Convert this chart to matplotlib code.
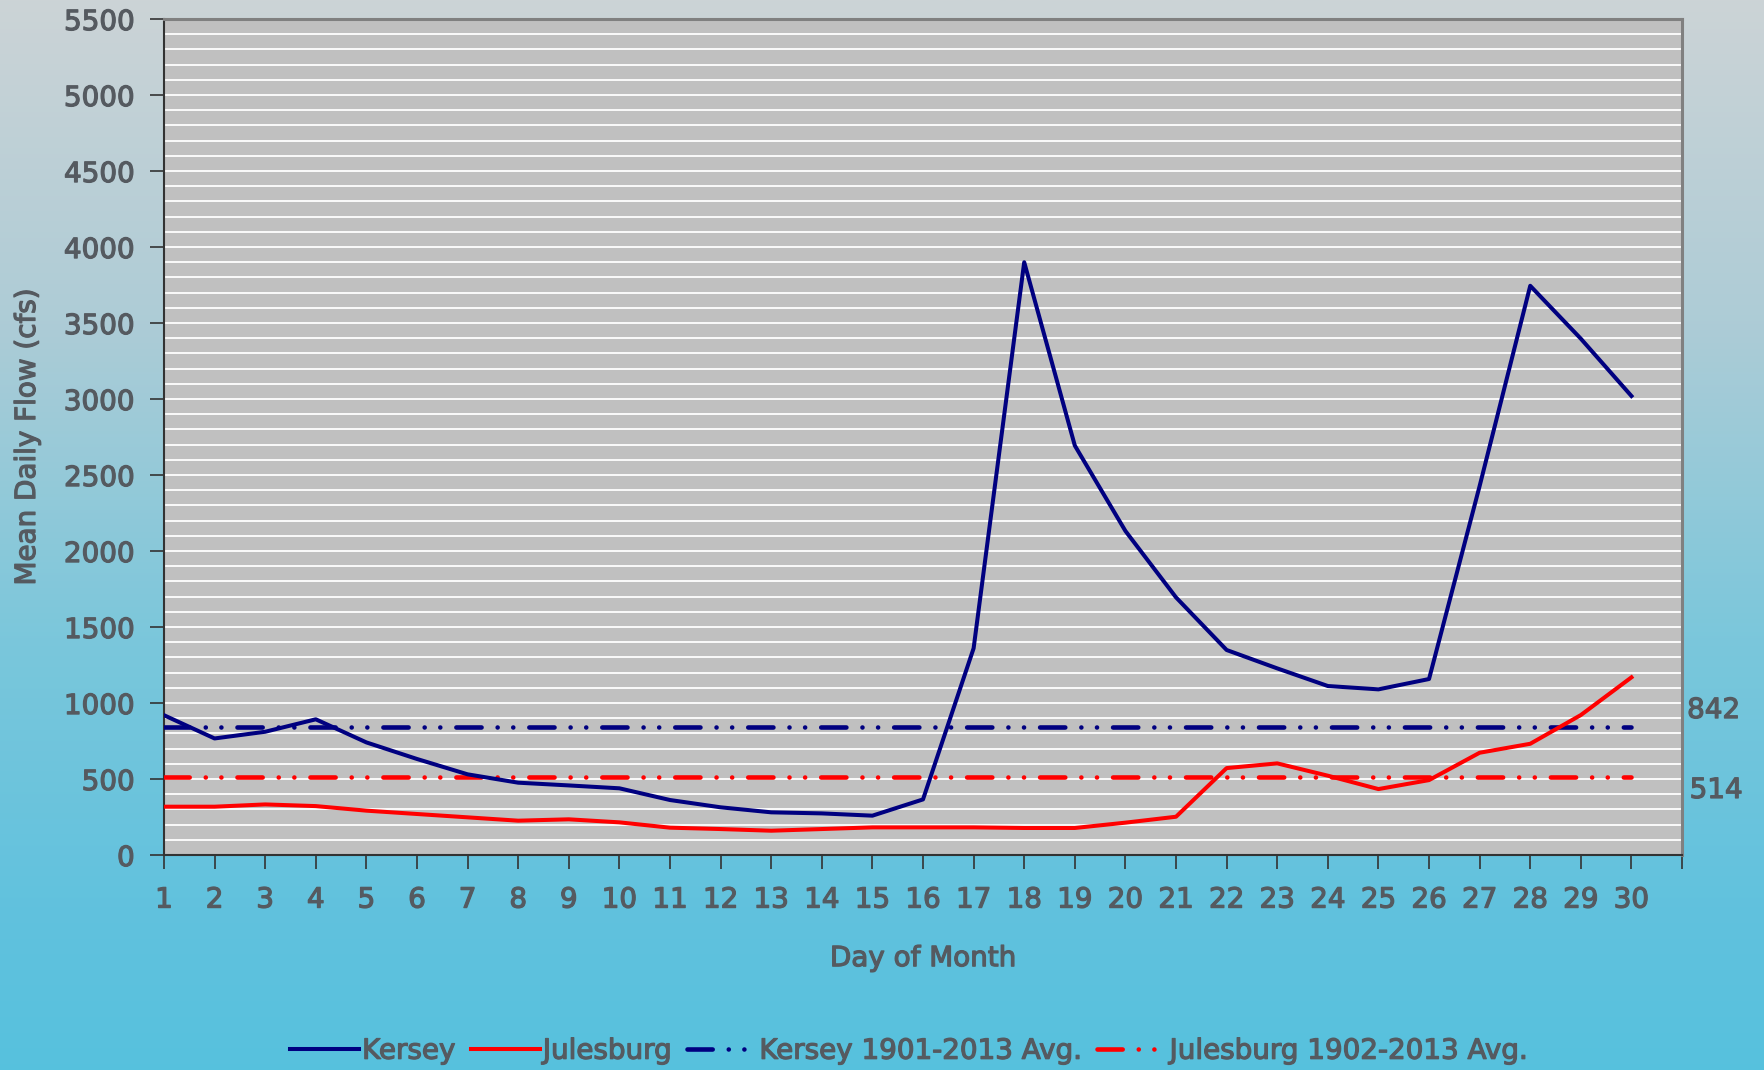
import numpy as np
import matplotlib
matplotlib.use("Agg")
import matplotlib.pyplot as plt
import matplotlib.patheffects as pe

days = list(range(1, 31))
kersey = [920, 767, 811, 893, 741, 632, 531, 476, 458, 439,
          362, 314, 281, 274, 259, 366, 1360, 3900, 2694, 2132,
          1695, 1349, 1228, 1112, 1090, 1158, 2428, 3745, 3397, 3020]
julesburg = [318, 318, 333, 322, 292, 270, 248, 226, 235, 215,
             180, 171, 160, 171, 182, 182, 182, 178, 178, 213,
             252, 572, 603, 522, 434, 493, 673, 732, 921, 1169]
kersey_avg = 842
julesburg_avg = 514

TEXT = "#555a60"
FONT = "DejaVu Sans"
BOLDEN = [pe.withStroke(linewidth=0.9, foreground=TEXT)]


def main():
    fig = plt.figure(figsize=(17.65, 10.7), dpi=100)

    # gradient background
    bg = fig.add_axes([0, 0, 1, 1], zorder=-10)
    stops = [0.0, 0.3, 0.6, 0.85, 1.0]
    cols = np.array([[0.80, 0.83, 0.84],
                     [0.68, 0.80, 0.84],
                     [0.48, 0.78, 0.86],
                     [0.38, 0.76, 0.87],
                     [0.34, 0.76, 0.87]])
    yy = np.linspace(0, 1, 400)
    grad = np.stack([np.interp(yy, stops, cols[:, i]) for i in range(3)], axis=-1)
    bg.imshow(grad[:, None, :], aspect="auto", extent=[0, 1, 0, 1], origin="upper")
    bg.axis("off")

    ax = fig.add_axes([0.0929, 0.2009, 0.953 - 0.0929, 0.9822 - 0.2009])
    ax.set_facecolor("#c0c0c0")

    # long dash, dot, dot
    dash = (0, (5.5, 3.5, 0.01, 3.4, 0.01, 3.5))
    ax.axhline(kersey_avg, color="#000080", lw=3.3, linestyle=dash,
               dash_capstyle="round", xmin=0, xmax=29 / 30,
               label="Kersey 1901-2013 Avg.", zorder=3)
    ax.axhline(julesburg_avg, color="#ff0000", lw=3.3, linestyle=dash,
               dash_capstyle="round", xmin=0, xmax=29 / 30,
               label="Julesburg 1902-2013 Avg.", zorder=3)
    ax.plot(days, kersey, color="#000080", lw=2.9, label="Kersey", zorder=4)
    ax.plot(days, julesburg, color="#ff0000", lw=2.9, label="Julesburg", zorder=4)

    ax.set_xlim(1, 31)
    ax.set_ylim(0, 5500)
    ax.set_yticks(np.arange(0, 5501, 500))
    ax.set_yticks(np.arange(0, 5501, 100), minor=True)
    ax.set_xticks(range(1, 32))
    ax.set_xticklabels([str(d) for d in days] + [""])
    ax.grid(True, which="both", axis="y", color="white", lw=1.3, zorder=1)
    ax.set_axisbelow(True)

    ax.tick_params(axis="both", which="major", direction="out", length=10,
                   width=1.2, color="#333333", labelsize=20, labelcolor=TEXT)
    ax.tick_params(axis="y", which="minor", length=0)
    ax.tick_params(axis="x", pad=12)
    ax.tick_params(axis="y", pad=11)
    for lab in ax.get_xticklabels() + ax.get_yticklabels():
        lab.set_fontfamily(FONT)
        lab.set_path_effects(BOLDEN)

    for side in ("left", "bottom"):
        ax.spines[side].set_color("#333333")
        ax.spines[side].set_linewidth(1.5)
    for side in ("top", "right"):
        ax.spines[side].set_color("#808080")
        ax.spines[side].set_linewidth(2.2)

    ax.set_xlabel("Day of Month", fontsize=20, color=TEXT, family=FONT,
                  labelpad=22, path_effects=BOLDEN)
    ax.set_ylabel("Mean Daily Flow (cfs)", fontsize=20, color=TEXT, family=FONT,
                  path_effects=BOLDEN)
    ax.yaxis.set_label_coords(-0.081, 0.5)

    ax.text(31.1, kersey_avg + 112, str(kersey_avg), fontsize=20, color=TEXT,
            family=FONT, va="center", ha="left", clip_on=False,
            path_effects=BOLDEN)
    ax.text(31.15, julesburg_avg - 86, str(julesburg_avg), fontsize=20, color=TEXT,
            family=FONT, va="center", ha="left", clip_on=False,
            path_effects=BOLDEN)

    handles, labels = ax.get_legend_handles_labels()
    order = [2, 3, 0, 1]
    leg = fig.legend([handles[i] for i in order], [labels[i] for i in order],
                     loc="center", bbox_to_anchor=(0.515, 0.018), ncol=4,
                     frameon=False, handlelength=2.5, handletextpad=0.1,
                     columnspacing=0.55, prop={"family": FONT, "size": 20})
    for t in leg.get_texts():
        t.set_color(TEXT)
        t.set_path_effects(BOLDEN)

    fig.savefig("out.png", dpi=100)
    plt.close(fig)


if __name__ == "__main__":
    main()
